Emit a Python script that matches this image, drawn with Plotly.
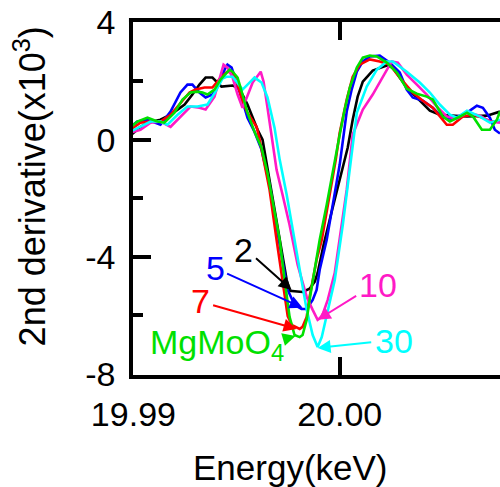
import plotly.graph_objects as go

# ---- data (energy in keV, 2nd derivative in units of 1e3) ----
x_2 = [19.98985, 19.99029, 19.99068, 19.99131, 19.99180, 19.99248, 19.99286, 19.99320, 19.99350, 19.99383,
       19.99427, 19.99481, 19.99505, 19.99529, 19.99553, 19.99578, 19.99602, 19.99626, 19.99660, 19.99709,
       19.99743, 19.99757, 19.99820, 19.99854, 19.99879, 19.99893, 19.99922, 19.99961, 20.00000, 20.00039,
       20.00063, 20.00087, 20.00112, 20.00160, 20.00228, 20.00257, 20.00325, 20.00388, 20.00437, 20.00485,
       20.00617, 20.00714, 20.00777]
y_2 = [0.14, 0.41, 0.58, 0.68, 0.85, 1.20, 1.54, 1.88, 2.12, 2.12,
       1.81, 1.85, 1.78, 1.54, 1.20, 0.75, 0.34, 0.00, -1.37, -3.42,
       -4.79, -5.16, -5.20, -5.09, -4.85, -4.55, -3.59, -2.46, -1.37, -0.27,
       0.68, 1.47, 1.98, 2.36, 2.53, 2.46, 1.78, 1.33, 0.99, 0.85,
       0.79, 0.82, 0.96]

x_5 = [19.98985, 19.99019, 19.99068, 19.99131, 19.99180, 19.99228, 19.99262, 19.99286, 19.99320, 19.99350,
       19.99383, 19.99417, 19.99442, 19.99456, 19.99476, 19.99500, 19.99524, 19.99553, 19.99587, 19.99621,
       19.99660, 19.99709, 19.99748, 19.99781, 19.99815, 19.99840, 19.99869, 19.99888, 19.99903, 19.99937,
       19.99966, 20.00000, 20.00034, 20.00058, 20.00083, 20.00112, 20.00146, 20.00194, 20.00243, 20.00291,
       20.00325, 20.00354, 20.00403, 20.00451, 20.00500, 20.00544, 20.00583, 20.00631, 20.00665, 20.00694,
       20.00728, 20.00752, 20.00777]
y_5 = [0.44, 0.62, 0.68, 0.51, 0.96, 1.61, 1.88, 1.88, 1.61, 1.44,
       1.54, 1.95, 2.39, 2.56, 2.46, 1.98, 1.44, 0.75, 0.27, -0.34,
       -1.54, -3.59, -5.13, -5.64, -5.78, -5.78, -5.47, -5.13, -4.44, -3.42,
       -2.22, -0.85, 0.96, 1.71, 2.32, 2.67, 2.84, 2.87, 2.63, 2.29,
       1.71, 1.44, 1.33, 1.09, 0.75, 0.72, 0.82, 0.99, 1.16, 1.09,
       0.75, 0.34, 0.21]

x_7 = [19.98985, 19.99034, 19.99078, 19.99131, 19.99180, 19.99228, 19.99272, 19.99301, 19.99345, 19.99383,
       19.99427, 19.99456, 19.99481, 19.99505, 19.99529, 19.99553, 19.99597, 19.99612, 19.99660, 19.99694,
       19.99733, 19.99748, 19.99767, 19.99806, 19.99820, 19.99840, 19.99854, 19.99888, 19.99913, 19.99951,
       19.99981, 20.00000, 20.00034, 20.00063, 20.00097, 20.00146, 20.00194, 20.00243, 20.00291, 20.00354,
       20.00403, 20.00451, 20.00485, 20.00519, 20.00548, 20.00597, 20.00646, 20.00694, 20.00728, 20.00777]
y_7 = [0.34, 0.58, 0.62, 0.62, 0.85, 1.26, 1.61, 1.71, 1.78, 1.78,
       2.15, 2.32, 2.29, 1.88, 1.30, 0.92, 0.44, 0.00, -1.71, -3.42,
       -5.40, -6.02, -6.32, -6.46, -6.39, -6.05, -5.37, -4.10, -3.42, -1.88,
       -0.68, 0.24, 1.37, 2.15, 2.56, 2.74, 2.67, 2.56, 2.12, 1.61,
       1.33, 1.09, 0.79, 0.51, 0.51, 0.79, 0.85, 0.75, 0.62, 0.62]

x_10 = [19.98985, 19.99034, 19.99083, 19.99131, 19.99180, 19.99228, 19.99277, 19.99320, 19.99350, 19.99393,
        19.99422, 19.99437, 19.99456, 19.99481, 19.99505, 19.99529, 19.99553, 19.99578, 19.99617, 19.99631,
        19.99650, 19.99670, 19.99694, 19.99723, 19.99757, 19.99796, 19.99840, 19.99869, 19.99893, 19.99913,
        19.99942, 19.99976, 20.00000, 20.00034, 20.00063, 20.00112, 20.00160, 20.00209, 20.00252, 20.00282,
        20.00325, 20.00374, 20.00422, 20.00471, 20.00519, 20.00568, 20.00617, 20.00680, 20.00728, 20.00777]
y_10 = [0.24, 0.34, 0.58, 0.62, 0.44, 0.79, 1.13, 1.09, 1.03, 1.47,
        2.22, 2.56, 2.46, 2.12, 1.54, 1.09, 1.50, 1.95, 2.32, 1.98,
        1.09, 0.07, -1.03, -1.88, -2.91, -4.27, -5.37, -5.81, -6.15, -6.05,
        -5.47, -4.55, -3.42, -1.71, 0.17, 1.03, 1.54, 2.15, 2.67, 2.63,
        2.22, 1.88, 1.54, 1.13, 0.79, 0.72, 0.92, 0.82, 0.62, 0.58]

x_30 = [19.98985, 19.99034, 19.99083, 19.99131, 19.99165, 19.99214, 19.99262, 19.99311, 19.99359, 19.99398,
        19.99432, 19.99451, 19.99481, 19.99500, 19.99529, 19.99563, 19.99587, 19.99621, 19.99650, 19.99684,
        19.99709, 19.99743, 19.99781, 19.99806, 19.99840, 19.99869, 19.99893, 19.99913, 19.99942, 19.99976,
        20.00015, 20.00049, 20.00083, 20.00131, 20.00180, 20.00228, 20.00257, 20.00325, 20.00388, 20.00437,
        20.00485, 20.00534, 20.00568, 20.00617, 20.00680, 20.00728, 20.00777]
y_30 = [0.27, 0.44, 0.62, 0.62, 0.51, 0.85, 1.13, 1.13, 1.20, 1.64,
        2.09, 2.15, 2.15, 1.98, 1.71, 1.95, 2.12, 1.95, 1.44, 0.41,
        -0.68, -1.88, -3.42, -4.44, -5.81, -6.67, -7.08, -6.74, -5.88, -4.79,
        -2.91, -0.99, 0.92, 1.81, 2.39, 2.67, 2.67, 2.32, 1.95, 1.61,
        1.20, 0.85, 0.75, 0.99, 0.79, 0.58, 0.68]

x_mg = [19.98985, 19.99019, 19.99068, 19.99117, 19.99150, 19.99199, 19.99238, 19.99277, 19.99311, 19.99335,
        19.99359, 19.99393, 19.99422, 19.99447, 19.99466, 19.99481, 19.99505, 19.99529, 19.99553, 19.99587,
        19.99621, 19.99650, 19.99709, 19.99733, 19.99757, 19.99781, 19.99806, 19.99820, 19.99840, 19.99854,
        19.99888, 19.99903, 19.99937, 19.99976, 20.00000, 20.00024, 20.00049, 20.00083, 20.00112, 20.00146,
        20.00180, 20.00228, 20.00277, 20.00325, 20.00374, 20.00422, 20.00451, 20.00500, 20.00534, 20.00583,
        20.00617, 20.00646, 20.00689, 20.00728, 20.00762, 20.00777]
y_mg = [0.41, 0.62, 0.75, 0.62, 0.58, 0.92, 1.37, 1.61, 1.64, 1.61,
        1.54, 1.71, 2.05, 2.26, 2.39, 2.32, 2.12, 1.54, 0.92, 0.27,
        -0.27, -1.13, -3.42, -4.79, -6.05, -6.67, -6.74, -6.67, -6.15, -5.47,
        -4.10, -3.42, -2.22, -0.68, 0.17, 1.03, 1.78, 2.46, 2.80, 2.87,
        2.84, 2.63, 2.29, 1.74, 1.57, 1.47, 1.37, 0.79, 0.62, 0.79,
        0.92, 0.79, 0.34, 0.34, 0.68, 0.96]

series = [
    ("2", x_2, y_2, "#000000"),
    ("5", x_5, y_5, "#0000FF"),
    ("7", x_7, y_7, "#FF0000"),
    ("10", x_10, y_10, "#FF1AC6"),
    ("30", x_30, y_30, "#00FFFF"),
    ("MgMoO4", x_mg, y_mg, "#00E000"),
]

x_tickvals = [19.99, 20.00]
x_ticktext = ["19.99", "20.00"]
y_tickvals = [-8, -4, 0, 4]
y_ticktext = ["-8\u2009", "-4\u2009", "0\u2009", "4\u2009"]
y_minor = [-6, -2, 2]

# label annotations: text, text position, arrow tail, arrow head, colour
labels = [
    ("2", (19.99534, -3.76), (19.99587, -4.00), (19.99767, -5.13), "#000000"),
    ("5", (19.99398, -4.38), (19.99447, -4.55), (19.99820, -5.74), "#0000FF"),
    ("7", (19.99325, -5.50), (19.99379, -5.64), (19.99791, -6.46), "#FF0000"),
    ("MgMoO<sub>4</sub>", (19.99403, -7.0), (19.99728, -6.82), (19.99786, -6.70), "#00E000"),
    ("10", (20.00184, -4.96), (20.00087, -5.30), (19.99893, -6.15), "#FF1AC6"),
    ("30", (20.00262, -6.87), (20.00160, -6.91), (19.99893, -7.11), "#00FFFF"),
]

FONT = "Liberation Sans, Arial, sans-serif"

fig = go.Figure()
for name, xs, ys, col in series:
    fig.add_trace(go.Scatter(x=xs, y=ys, mode="lines", name=name,
                             line=dict(color=col, width=2.6), showlegend=False))

for text, (tx, ty), (ax_, ay_), (hx, hy), col in labels:
    fig.add_annotation(x=hx, y=hy, ax=ax_, ay=ay_, xref="x", yref="y", axref="x", ayref="y",
                       text="", showarrow=True, arrowhead=2, arrowsize=1.3, arrowwidth=2,
                       arrowcolor=col, standoff=0)
    fig.add_annotation(x=tx, y=ty, xref="x", yref="y", text=text, showarrow=False,
                       font=dict(family=FONT, size=34, color=col), xanchor="center", yanchor="middle")

# axis titles
fig.add_annotation(x=0.428, y=-0.263, xref="paper", yref="paper", text="Energy(keV)", showarrow=False,
                   font=dict(family=FONT, size=35, color="black"), xanchor="center", yanchor="middle")
fig.add_annotation(x=-0.28, y=0.535, xref="paper", yref="paper", text="2nd derivative(x10<sup>3</sup>)",
                   showarrow=False, textangle=-90,
                   font=dict(family=FONT, size=36, color="black"), xanchor="center", yanchor="middle")

# top frame line
fig.add_shape(type="line", xref="paper", yref="paper", x0=-0.011, x1=1.0, y0=1.0057, y1=1.0057,
              line=dict(color="black", width=4), layer="above")

fig.update_layout(
    width=500, height=487,
    margin=dict(l=133, r=0, t=22, b=112, autoexpand=False),
    paper_bgcolor="white", plot_bgcolor="white",
    font=dict(family=FONT, size=34, color="black"),
    xaxis=dict(range=[19.98998, 20.00777], showgrid=False, zeroline=False, automargin=False,
               showline=True, linewidth=4, linecolor="black", mirror="ticks",
               ticks="inside", ticklen=18, tickwidth=3.5, tickcolor="black", ticklabelstandoff=6,
               tickvals=x_tickvals, ticktext=x_ticktext, tickfont=dict(size=34, family=FONT)),
    yaxis=dict(range=[-8.034, 4.017], showgrid=False, zeroline=False, automargin=False,
               showline=True, linewidth=4, linecolor="black", mirror=False,
               ticks="inside", ticklen=18, tickwidth=3.5, tickcolor="black",
               tickvals=y_tickvals, ticktext=y_ticktext, tickfont=dict(size=34, family=FONT),
               minor=dict(tickvals=y_minor, ticks="inside", ticklen=10, tickwidth=3.5, tickcolor="black")),
)

fig.write_html("out.html", config={"displayModeBar": False},
               post_script="document.body.style.margin='0px';")
